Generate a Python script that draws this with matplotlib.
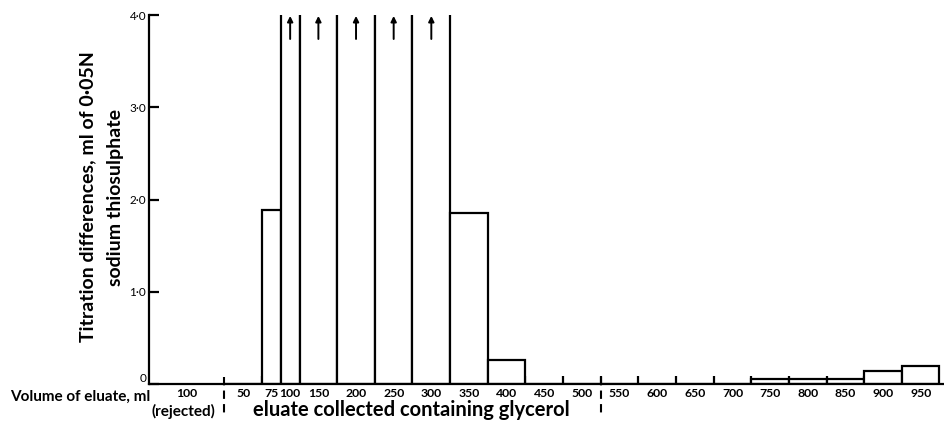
import numpy as np
from matplotlib import pyplot as plt
from matplotlib import transforms

plt.rcParams["font.family"] = ["Lato", "DejaVu Sans"]

# eluate fractions after the rejected first 100 ml
bin_labels = ["50", "75", "100", "150", "200", "250", "300", "350", "400",
              "450", "500", "550", "600", "650", "700", "750", "800",
              "850", "900", "950"]
bin_widths = [50, 25, 25, 50, 50, 50, 50, 50, 50,
              50, 50, 50, 50, 50, 50, 50, 50, 50, 50, 50]
# None = off scale (arrow)
titration = [0.0, 1.89, None, None, None, None, None, 1.85, 0.26,
             0.0, 0.0, 0.0, 0.0, 0.0, 0.0, 0.05, 0.05, 0.05, 0.14, 0.19]

rejected_volume = 100
rejected_label = "100"
glycerol_end = 600  # second dashed divider (cumulative ml)

y_ticks = [0, 1, 2, 3, 4]
y_ticklabels = ["0", "1·0", "2·0", "3·0", "4·0"]

W, H = 944, 421
fig = plt.figure(figsize=(W / 100, H / 100), dpi=100)
ax = fig.add_axes([149 / W, 37 / H, (W - 149) / W, (384 - 15) / H])

lefts = rejected_volume + np.concatenate([[0], np.cumsum(bin_widths)[:-1]])
centers = lefts + np.array(bin_widths) / 2
heights = [5.0 if v is None else v for v in titration]

ax.bar(lefts, heights, width=bin_widths, align="edge", facecolor="white",
       edgecolor="black", linewidth=1.6, zorder=2)

for c, v in zip(centers, titration):
    if v is None:
        ax.annotate("", xy=(c, 3.99), xytext=(c, 3.74),
                    arrowprops=dict(arrowstyle="-|>", color="black", lw=1.4,
                                    mutation_scale=8, shrinkA=0, shrinkB=0))

ax.set_xlim(0, 1056)
ax.set_ylim(0, 4)

for s in ("top", "right"):
    ax.spines[s].set_visible(False)
ax.spines["left"].set_linewidth(1.6)
ax.spines["bottom"].set_linewidth(1.6)

ax.set_yticks(y_ticks)
ax.set_yticklabels(y_ticklabels, fontsize=8.5)
ax.tick_params(axis="y", direction="in", length=7, width=1.6, pad=2)
ax.get_yticklabels()[0].set_va("bottom")

# labels centred in the fractions, boundary ticks as minor ticks
ax.set_xticks([rejected_volume / 2] + list(centers))
ax.set_xticklabels([rejected_label] + bin_labels, fontsize=8.8,
                   fontweight="bold")
ax.tick_params(axis="x", which="major", length=0, pad=3)
ax.set_xticks([rejected_volume / 2] + list(lefts[1:]), minor=True)
ax.tick_params(axis="x", which="minor", direction="in", length=6, width=1.6)

trans = transforms.blended_transform_factory(ax.transData, ax.transAxes)
for xv in (rejected_volume, glycerol_end):
    ax.plot([xv, xv], [0.02, -0.085], transform=trans, color="black",
            lw=1.5, dashes=(4, 2.5), clip_on=False)

fig.text(10 / W, 1 - 401 / H, "Volume of eluate, ml", fontsize=11,
         fontweight="bold", va="baseline", ha="left")
fig.text(183 / W, 1 - 411 / H, "(rejected)", fontsize=11,
         fontweight="bold", va="center", ha="center")
fig.text(253 / W, 1 - 410 / H, "eluate collected containing glycerol",
         fontsize=14.5, fontweight="bold", va="center", ha="left")

fig.text(88 / W, 1 - 197 / H, "Titration differences, ml of 0·05N",
         fontsize=14, fontweight="bold", rotation=90, va="center",
         ha="center")
fig.text(115 / W, 1 - 197 / H, "sodium thiosulphate", fontsize=14,
         fontweight="bold", rotation=90, va="center", ha="center")

fig.savefig("out.png", dpi=100)
